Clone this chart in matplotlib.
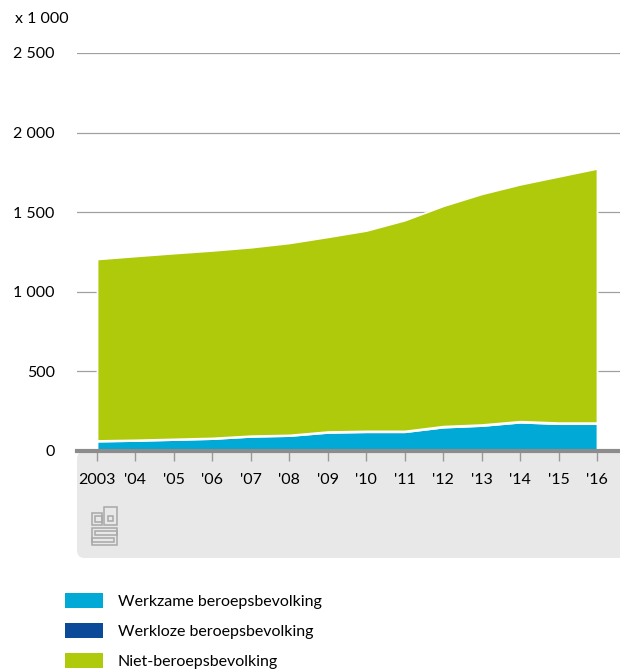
import matplotlib
matplotlib.use("Agg")
import matplotlib.pyplot as plt
from matplotlib.patches import FancyBboxPatch, Rectangle
import numpy as np

years = [2003, 2004, 2005, 2006, 2007, 2008, 2009, 2010, 2011, 2012, 2013, 2014, 2015, 2016]
year_labels = ["2003", "'04", "'05", "'06", "'07", "'08", "'09", "'10", "'11", "'12", "'13", "'14", "'15", "'16"]
werkzame = [62, 66, 72, 78, 92, 97, 117, 121, 121, 150, 160, 181, 172, 172]
werkloze = [4, 4, 4, 4, 4, 4, 5, 5, 5, 6, 6, 6, 6, 6]
totaal = [1206, 1225, 1243, 1260, 1280, 1307, 1345, 1385, 1450, 1540, 1615, 1675, 1725, 1775]
niet = [t - a - b for t, a, b in zip(totaal, werkzame, werkloze)]
yticks = [0, 500, 1000, 1500, 2000, 2500]
ytick_labels = ["0", "500", "1 000", "1 500", "2 000", "2 500"]
legend_labels = ["Werkzame beroepsbevolking", "Werkloze beroepsbevolking", "Niet-beroepsbevolking"]
colors = ["#00a9d6", "#0a4a98", "#afca0b"]

plt.rcParams['font.family'] = ['Lato', 'DejaVu Sans']
FS = 11.5
W, H = 620, 671
fig = plt.figure(figsize=(W/100, H/100), dpi=100)

# grey box below axis
box = FancyBboxPatch((77/W, 1-558/H), (W-77)/W + 0.02, (558-451)/H,
                     boxstyle="round,pad=0,rounding_size=0.012",
                     transform=fig.transFigure, facecolor="#e8e8e8", edgecolor="none", zorder=-5)
fig.patches.append(box)

ax = fig.add_axes([77/W, 1-451/H, (W-77)/W, (451-53)/H])
ax.set_facecolor("none")
x = np.array(years)
ax.stackplot(x, werkzame, werkloze, niet, colors=colors, edgecolor="white", linewidth=1.3, zorder=3)
ax.set_ylim(0, 2500)
ax.set_xlim(2003 - 20/38.46, 2016 + 23/38.46)
ax.set_yticks(yticks)
ax.set_yticklabels(ytick_labels)
for y in yticks[1:]:
    ax.axhline(y, color="#a0a0a0", lw=0.9, zorder=1)
ax.axhline(0, color="#8c8c8c", lw=3, zorder=4, clip_on=False)
for s in ax.spines.values():
    s.set_visible(False)
ax.tick_params(axis="y", length=0, pad=16, labelsize=FS, colors="#000000")
ax.set_xticks(years)
ax.set_xticklabels(year_labels)
ax.tick_params(axis="x", length=7, width=1, color="#999999", pad=9, labelsize=FS)
fig.text(15/W, 1-19/H, "x 1 000", fontsize=FS, va="center", ha="left")

# cbs logo approximation
lc = "#a8a8a8"
def r(x0, y0, w, h):
    fig.patches.append(Rectangle((x0/W, 1-(y0+h)/H), w/W, h/H, transform=fig.transFigure,
                                 fill=False, edgecolor=lc, lw=1.1))
r(92, 513, 10, 12)
r(95, 516, 7, 6)
r(104, 507, 13, 18)
r(108, 516, 5, 5)
r(92, 528, 25, 17)
r(95, 531, 22, 4)
r(92, 538, 22, 4)

# legend
for i, (lab, c) in enumerate(zip(legend_labels, colors)):
    yc = 600 + i * 30
    fig.patches.append(Rectangle((65/W, 1-(yc+7.5)/H), 38/W, 15/H, transform=fig.transFigure,
                                 facecolor=c, edgecolor="none"))
    fig.text(118/W, 1-(yc+2)/H, lab, fontsize=FS, va="center", ha="left")

fig.savefig("out.png", dpi=100)
